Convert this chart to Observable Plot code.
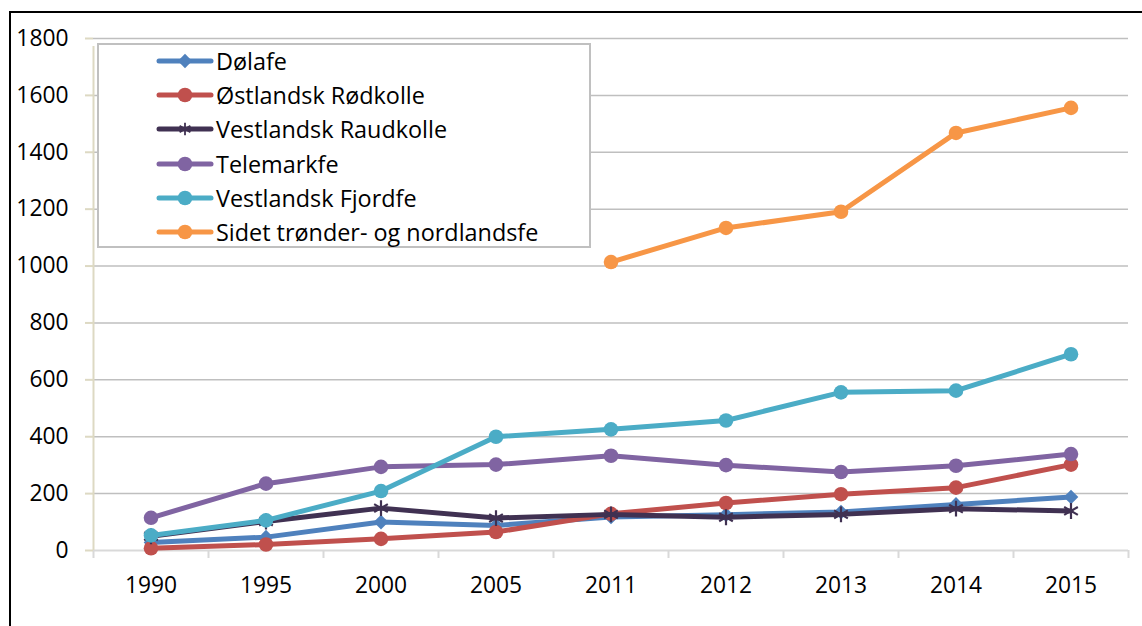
<!DOCTYPE html>
<html>
<head>
<meta charset="utf-8">
<script src="https://cdn.jsdelivr.net/npm/d3@7"></script>
<script src="https://cdn.jsdelivr.net/npm/@observablehq/plot@0.6"></script>
<style>
  body { margin: 0; background: #fff; }
  #wrap { position: relative; width: 1142px; height: 626px; overflow: hidden; background: #fff; font-family: "Open Sans", sans-serif; }
  #chart { position: absolute; left: 0; top: 0; }
  #legend { position: absolute; left: 97px; top: 43px; width: 494px; height: 205px; box-sizing: border-box;
            border: 2px solid #c0c0c0; background: #fff; }
  .row { position: absolute; left: 57px; height: 34px; display: flex; align-items: center; font-size: 23.4px; color: #000; white-space: nowrap; }
  .row svg { margin-right: 2px; }
  #border { position: absolute; left: 9px; top: 11px; right: -20px; bottom: -20px; border-left: 2px solid #000; border-top: 2px solid #000; pointer-events: none; }
</style>
</head>
<body>
<div id="wrap">
  <div id="chart"></div>
  <div id="legend"></div>
  <div id="border"></div>
</div>
<script>
// ---- data ----
const years = ["1990", "1995", "2000", "2005", "2011", "2012", "2013", "2014", "2015"];
const seriesNames = ["Dølafe", "Østlandsk Rødkolle", "Vestlandsk Raudkolle", "Telemarkfe", "Vestlandsk Fjordfe", "Sidet trønder- og nordlandsfe"];
const dolafe     = [28, 47, 100, 88, 118, 126, 135, 162, 188];
const ostlandsk  = [8, 21, 41, 65, 129, 167, 198, 221, 302];
const raudkolle  = [50, 102, 149, 114, 127, 117, 127, 147, 139];
const telemarkfe = [115, 235, 294, 302, 333, 300, 276, 298, 339];
const fjordfe    = [53, 106, 209, 400, 426, 457, 556, 562, 690];
const sidet      = [null, null, null, null, 1014, 1134, 1191, 1468, 1556];
const yTicks = [0, 200, 400, 600, 800, 1000, 1200, 1400, 1600, 1800];

// ---- styles ----
const colors = ["#4F81BD", "#C0504D", "#403152", "#8064A2", "#4BACC6", "#F79646"];
const symbols = ["diamond2", "circle", "asterisk", "circle", "circle", "circle"];
const seriesValues = [dolafe, ostlandsk, raudkolle, telemarkfe, fjordfe, sidet];

const rows = [];
seriesNames.forEach((s, i) => {
  seriesValues[i].forEach((v, j) => {
    if (v != null) rows.push({series: s, year: years[j], value: v});
  });
});

const W = 1142, H = 626, ML = 93, MR = 14, MT = 38, MB = 76;
const half = (W - ML - MR) / years.length / 2;
const font = "Open Sans";

const marks = [
  Plot.gridY(yTicks.filter(d => d > 0), {stroke: "#bfbfbf", strokeOpacity: 1, strokeWidth: 1.5}),
  Plot.ruleY([0], {stroke: "#d9d9d9", strokeWidth: 2}),
  // category boundary ticks on x axis
  Plot.ruleX(years, {x: d => d, y1: 0, y2: 0, insetBottom: -8, dx: -half, stroke: "#d9d9d9", strokeWidth: 2}),
  Plot.ruleX([years[years.length - 1]], {x: d => d, y1: 0, y2: 0, insetBottom: -8, dx: half, stroke: "#d9d9d9", strokeWidth: 2}),
  // y axis line
  Plot.ruleX([years[0]], {x: d => d, y1: 0, y2: 1800, insetBottom: -8, dx: -half, stroke: "#ddd9c3", strokeWidth: 2}),
  Plot.axisY({ticks: yTicks, tickSize: 8, tickPadding: 17, stroke: "#ddd9c3", strokeWidth: 2, fill: "#000", fontSize: 22.8, label: null, tickFormat: d => String(d)}),
  Plot.axisX({tickSize: 0, tickPadding: 26, fill: "#000", fontSize: 22.8, label: null})
];

seriesNames.forEach((s, i) => {
  const d = rows.filter(r => r.series === s);
  marks.push(Plot.line(d, {x: "year", y: "value", stroke: "series", strokeWidth: 5, strokeLinejoin: "round", strokeLinecap: "round"}));
  if (symbols[i] === "asterisk") {
    marks.push(Plot.dot(d, {x: "year", y: "value", symbol: "asterisk", r: 7.5, stroke: "series", strokeWidth: 2.2}));
  } else if (symbols[i] === "diamond2") {
    marks.push(Plot.dot(d, {x: "year", y: "value", symbol: "diamond2", r: 6.6, fill: "series", stroke: "none"}));
  } else {
    marks.push(Plot.dot(d, {x: "year", y: "value", symbol: "circle", r: 7.3, fill: "series", stroke: "none"}));
  }
});

const chart = Plot.plot({
  width: W, height: H,
  marginLeft: ML, marginRight: MR, marginTop: MT, marginBottom: MB,
  style: {fontFamily: font, background: "transparent", color: "#000"},
  x: {type: "band", domain: years, padding: 0, label: null},
  y: {domain: [0, 1800], label: null},
  color: {domain: seriesNames, range: colors},
  marks
});
document.getElementById("chart").appendChild(chart);

// ---- legend ----
const legend = d3.select("#legend");
seriesNames.forEach((s, i) => {
  const row = legend.append("div").attr("class", "row").style("top", (i * 34.2 - 1) + "px");
  const svg = row.append("svg").attr("width", 58).attr("height", 20);
  svg.append("line").attr("x1", 3).attr("x2", 55).attr("y1", 10).attr("y2", 10)
    .attr("stroke", colors[i]).attr("stroke-width", 5).attr("stroke-linecap", "round");
  if (symbols[i] === "asterisk") {
    svg.append("path").attr("transform", "translate(29,10)")
      .attr("d", d3.symbol(d3.symbolAsterisk, 110)())
      .attr("fill", "none").attr("stroke", colors[i]).attr("stroke-width", 1.8);
  } else if (symbols[i] === "diamond2") {
    svg.append("path").attr("transform", "translate(29,10)")
      .attr("d", d3.symbol(d3.symbolDiamond2, 130)())
      .attr("fill", colors[i]);
  } else {
    svg.append("circle").attr("cx", 29).attr("cy", 10).attr("r", 7.3).attr("fill", colors[i]);
  }
  row.append("span").text(s);
});
</script>
</body>
</html>
